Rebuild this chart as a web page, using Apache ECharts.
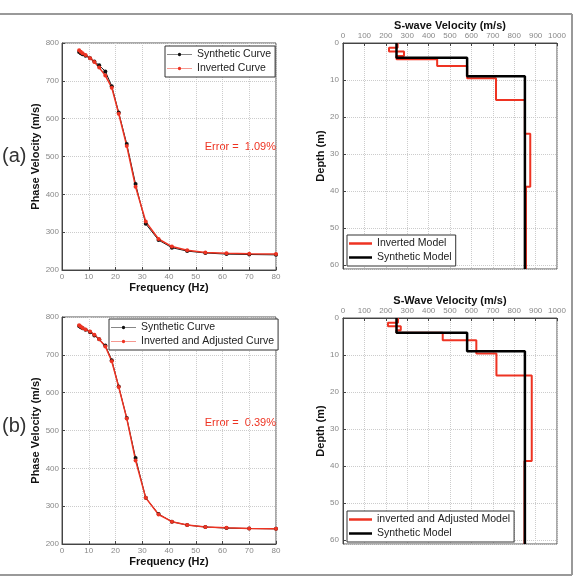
<!DOCTYPE html>
<html>
<head>
<meta charset="utf-8">
<script src="https://cdn.jsdelivr.net/npm/echarts@6/dist/echarts.min.js"></script>
<style>
  html, body { margin: 0; padding: 0; background: #fff; }
  #chart { width: 581px; height: 578px; }
</style>
</head>
<body>
<div id="chart"></div>
<script>
// dispersion curves (frequency in Hz, phase velocity in m/s)
var freq = [6.4, 7.0, 7.7, 8.8, 10.5, 12.1, 13.9, 16.2, 18.6, 21.2, 24.2, 27.5, 31.3, 36.1, 41.1, 46.8, 53.6, 61.5, 70, 80];
var synthCurve = [776, 773, 770, 766, 760, 751, 741, 725, 686, 616, 533, 427, 322, 279, 259, 250, 245, 242, 241, 240];
var invCurveA = [781, 777, 773, 768, 760, 750, 735, 714, 682, 613, 528, 420, 328, 282, 262, 252, 246, 244, 243, 242];
var invCurveB = [778, 775, 771, 767, 762, 753, 741, 722, 683, 615, 532, 421, 322, 278, 259, 250, 245, 243, 241, 240];

// layered models: velocity per layer, depth boundaries (m)
var synthVel = [250, 580, 850];
var synthDepth = [0, 4, 9, 61];
var invVelA = [255, 215, 285, 250, 440, 580, 715, 850, 875, 855];
var invDepthA = [0, 1.3, 2.3, 3.5, 4.4, 6.2, 9.5, 15.4, 24.5, 38.8, 61];
var invVelB = [257, 210, 270, 250, 466, 623, 717, 882, 848];
var invDepthB = [0, 1.3, 2.2, 3.3, 4.0, 6.0, 9.6, 15.5, 38.6, 61];

var errA = 'Error =  1.09%';
var errB = 'Error =  0.39%';

var RED = '#ee3322';
var FONT = 'Liberation Sans';

function pairs(x, y) {
  var out = [];
  for (var i = 0; i < x.length; i++) out.push([x[i], y[i]]);
  return out;
}
function steps(vel, depth) {
  var out = [];
  for (var i = 0; i < vel.length; i++) {
    out.push([vel[i], depth[i]]);
    out.push([vel[i], depth[i + 1]]);
  }
  return out;
}

var chart = echarts.init(document.getElementById('chart'));

var grids = [
  {left: 62, top: 43, width: 214, height: 227},
  {left: 343, top: 43, width: 214, height: 226},
  {left: 62, top: 317, width: 214, height: 227},
  {left: 343, top: 318, width: 214, height: 226}
];
grids.forEach(function (g) { g.show = true; g.borderColor = '#555'; g.borderWidth = 1; });

var tickLabel = {color: '#888', fontSize: 8, fontFamily: FONT, formatter: function (v) { return String(v); }};
var nameStyle = {color: '#111', fontSize: 11, fontWeight: 'bold', fontFamily: FONT};
var split = {show: true, lineStyle: {color: '#ccc', type: 'dotted'}};
var line = {show: true, lineStyle: {color: '#444'}};
var tick = {show: true, inside: true, length: 3, lineStyle: {color: '#444'}};

function freqAxis(idx) {
  return {type: 'value', gridIndex: idx, min: 0, max: 80, interval: 10,
    name: 'Frequency (Hz)', nameLocation: 'middle', nameGap: 12, nameTextStyle: nameStyle,
    axisLabel: Object.assign({margin: 3}, tickLabel), axisLine: line, axisTick: tick, splitLine: split};
}
function phaseAxis(idx) {
  return {type: 'value', gridIndex: idx, min: 200, max: 800, interval: 100,
    name: 'Phase Velocity (m/s)', nameLocation: 'middle', nameGap: 18, nameRotate: 90, nameTextStyle: nameStyle,
    axisLabel: Object.assign({margin: 3}, tickLabel), axisLine: line, axisTick: tick, splitLine: split};
}
function velAxis(idx, title) {
  return {type: 'value', gridIndex: idx, position: 'top', min: 0, max: 1000, interval: 100,
    name: title, nameLocation: 'middle', nameGap: 12, nameTextStyle: nameStyle,
    axisLabel: Object.assign({margin: 3}, tickLabel), axisLine: line, axisTick: tick, splitLine: split};
}
function depthAxis(idx) {
  return {type: 'value', gridIndex: idx, inverse: true, min: 0, max: 61, interval: 10,
    name: 'Depth (m)', nameLocation: 'middle', nameGap: 14, nameRotate: 90, nameTextStyle: nameStyle,
    axisLabel: Object.assign({margin: 4, showMaxLabel: false}, tickLabel), axisLine: line, axisTick: tick, splitLine: split};
}

function curve(name, idx, data, color, w) {
  return {name: name, type: 'line', xAxisIndex: idx, yAxisIndex: idx, data: data,
    symbol: 'circle', symbolSize: 4, itemStyle: {color: color},
    lineStyle: {color: color, width: w}, animation: false};
}
function model(name, idx, data, color, w) {
  return {name: name, type: 'line', xAxisIndex: idx, yAxisIndex: idx, data: data,
    showSymbol: false, symbol: 'none', itemStyle: {color: color},
    lineStyle: {color: color, width: w}, animation: false};
}

// legend icons: thin line with a dot for the curves, thick bar for the models
var dotLine = 'path://M0,1.6L30,1.6L30,2.4L0,2.4Z M13,2A2,2 0 1 1 17,2A2,2 0 1 1 13,2Z';
var legendBase = {orient: 'vertical', backgroundColor: '#fff', borderColor: '#333', borderWidth: 1,
  padding: [3, 4, 3, 2], itemGap: 3,
  textStyle: {color: '#222', fontSize: 10.5, fontFamily: FONT}};
function curveLegend(left, top, names) {
  return Object.assign({left: left, top: top, itemWidth: 25, itemHeight: 4, icon: dotLine, data: names}, legendBase);
}
function modelLegend(left, top, names) {
  return Object.assign({left: left, top: top, itemWidth: 23, itemHeight: 2.5, icon: 'rect', data: names}, legendBase);
}

var option = {
  backgroundColor: '#fff',
  animation: false,
  grid: grids,
  xAxis: [freqAxis(0), velAxis(1, 'S-wave Velocity (m/s)'), freqAxis(2), velAxis(3, 'S-Wave Velocity (m/s)')],
  yAxis: [phaseAxis(0), depthAxis(1), phaseAxis(2), depthAxis(3)],
  legend: [
    curveLegend(165, 46, ['Synthetic Curve', 'Inverted Curve']),
    modelLegend(347, 235, ['Inverted Model', 'Synthetic Model']),
    curveLegend(109, 319, ['Synthetic Curve', 'Inverted and Adjusted Curve']),
    modelLegend(347, 511, ['inverted and Adjusted Model', 'Synthetic Model'])
  ],
  series: [
    curve('Synthetic Curve', 0, pairs(freq, synthCurve), '#111', 1),
    curve('Inverted Curve', 0, pairs(freq, invCurveA), RED, 1.5),
    model('Inverted Model', 1, steps(invVelA, invDepthA), RED, 2),
    model('Synthetic Model', 1, steps(synthVel, synthDepth), '#000', 2.5),
    curve('Synthetic Curve', 2, pairs(freq, synthCurve), '#111', 1),
    curve('Inverted and Adjusted Curve', 2, pairs(freq, invCurveB), RED, 1.5),
    model('inverted and Adjusted Model', 3, steps(invVelB, invDepthB), RED, 2),
    model('Synthetic Model', 3, steps(synthVel, synthDepth), '#000', 2.5)
  ],
  graphic: [
    {type: 'text', left: 2, top: 146, style: {text: '(a)', fontSize: 20, fill: '#333', fontFamily: FONT}},
    {type: 'text', left: 2, top: 416, style: {text: '(b)', fontSize: 20, fill: '#333', fontFamily: FONT}},
    {type: 'text', right: 305, top: 141, style: {text: errA, fontSize: 11, fill: RED, fontFamily: FONT}},
    {type: 'text', right: 305, top: 417, style: {text: errB, fontSize: 11, fill: RED, fontFamily: FONT}},
    {type: 'line', shape: {x1: 0, y1: 14, x2: 572, y2: 14}, style: {stroke: '#999', lineWidth: 2}},
    {type: 'line', shape: {x1: 572, y1: 14, x2: 572, y2: 575}, style: {stroke: '#999', lineWidth: 2}},
    {type: 'line', shape: {x1: 0, y1: 575, x2: 572, y2: 575}, style: {stroke: '#999', lineWidth: 2}}
  ]
};

chart.setOption(option);
</script>
</body>
</html>
